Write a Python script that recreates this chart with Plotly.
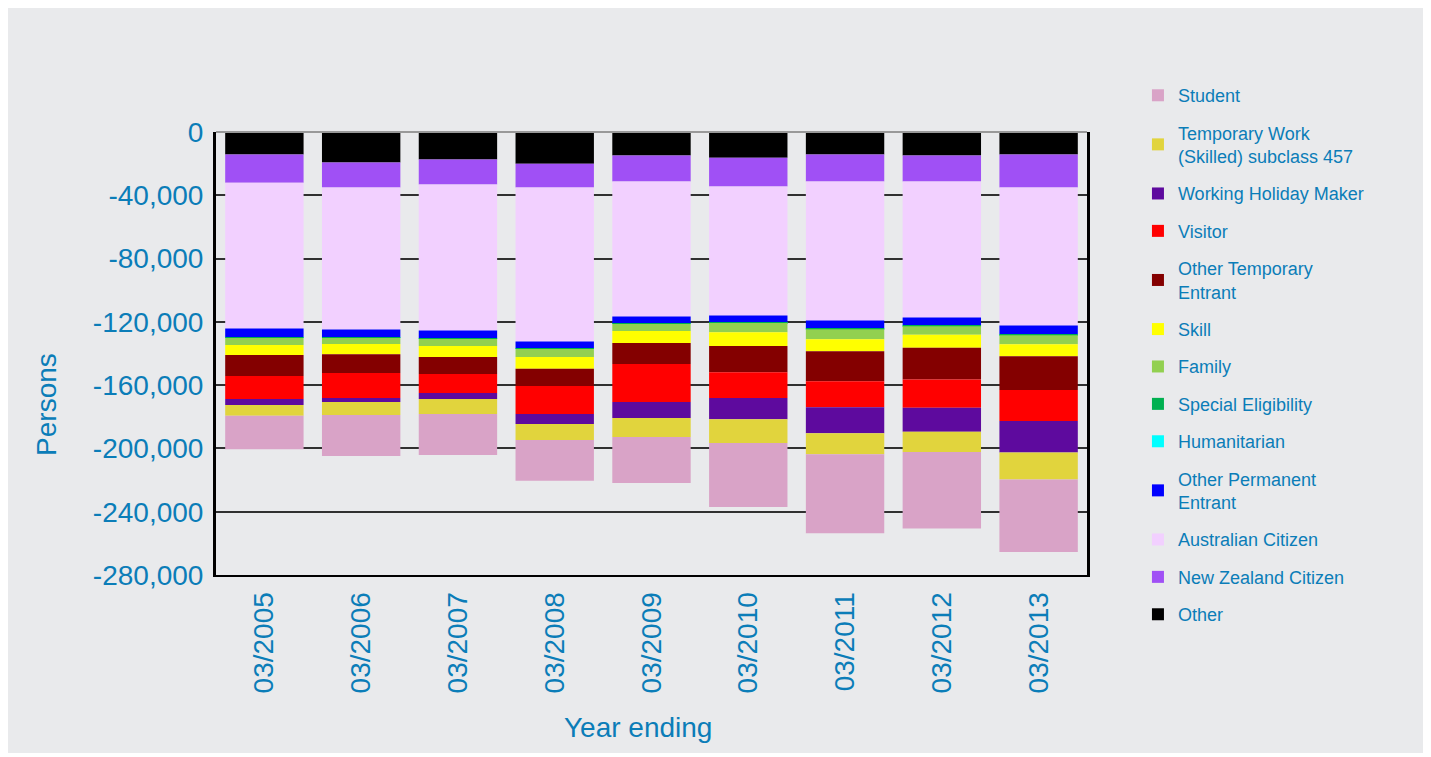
import plotly.graph_objects as go

# 年度ラベル
years = ['03/2005', '03/2006', '03/2007', '03/2008', '03/2009',
         '03/2010', '03/2011', '03/2012', '03/2013']

# 各カテゴリの値（人数、負方向に積み上げ）
other = [-14300, -19300, -17400, -20000, -14800, -16200, -14300, -14800, -14300]
nz_citizen = [-17700, -15800, -15800, -15100, -16500, -18300, -17000, -16500, -20800]
aus_citizen = [-92200, -89700, -92200, -97300, -85300, -81500, -87800, -85900, -87200]
other_permanent = [-5700, -5100, -5100, -4400, -4400, -4400, -5100, -4900, -5700]
humanitarian = [-100, -100, -100, -100, -100, -100, -100, -100, -100]
special_elig = [-200, -200, -200, -200, -200, -300, -400, -600, -300]
family = [-4400, -3800, -4400, -5100, -4400, -5700, -6300, -5300, -5700]
skill = [-6300, -6400, -7000, -7500, -7600, -8800, -7600, -8200, -7600]
other_temp = [-13300, -11900, -10700, -10800, -13300, -16500, -19000, -20200, -21400]
visitor = [-14500, -15800, -12000, -17700, -24000, -16400, -16400, -17800, -19600]
working_holiday = [-3800, -2500, -3800, -6300, -10100, -13300, -16400, -15200, -19900]
temp_work_457 = [-6900, -8200, -9500, -10100, -12000, -15100, -13300, -12800, -17100]
student = [-21100, -26000, -25900, -25900, -29100, -40400, -49900, -48300, -45800]

# Y軸目盛り
y_tick_values = [0, -40000, -80000, -120000, -160000, -200000, -240000, -280000]
y_tick_labels = ['0', '-40,000', '-80,000', '-120,000', '-160,000',
                 '-200,000', '-240,000', '-280,000']

# 積み上げ順（上から下）
SERIES = [
    ('Other', other, '#000000'),
    ('New Zealand Citizen', nz_citizen, '#a050f5'),
    ('Australian Citizen', aus_citizen, '#f2d0ff'),
    ('Other Permanent<br>Entrant', other_permanent, '#0000ff'),
    ('Humanitarian', humanitarian, '#00ffff'),
    ('Special Eligibility', special_elig, '#00b050'),
    ('Family', family, '#92d050'),
    ('Skill', skill, '#ffff00'),
    ('Other Temporary<br>Entrant', other_temp, '#840000'),
    ('Visitor', visitor, '#ff0000'),
    ('Working Holiday Maker', working_holiday, '#5e0a9e'),
    ('Temporary Work<br>(Skilled) subclass 457', temp_work_457, '#e1d43d'),
    ('Student', student, '#d9a3c7'),
]

TEXT_COLOR = '#0b7db8'
BG = '#e9eaec'
FONT = 'Liberation Sans, Arial, sans-serif'

fig = go.Figure()
for i, (name, values, color) in enumerate(SERIES):
    fig.add_trace(go.Bar(
        x=years,
        y=values,
        name=name,
        marker=dict(color=color, line=dict(width=0)),
        legendgroup=f'g{i}',
        legendrank=len(SERIES) - i,
    ))

fig.update_layout(
    width=1424,
    height=745,
    barmode='relative',
    bargap=0.19,
    paper_bgcolor=BG,
    plot_bgcolor=BG,
    margin=dict(l=208, r=345, t=124, b=178),
    font=dict(family=FONT, color=TEXT_COLOR),
    legend=dict(
        traceorder='grouped',
        x=1.0585, y=1.124,
        xanchor='left', yanchor='top',
        font=dict(size=18, color=TEXT_COLOR),
        bgcolor='rgba(0,0,0,0)',
        tracegroupgap=11,
        itemwidth=30,
        maxheight=700,
    ),
    xaxis=dict(
        tickangle=-90,
        tickfont=dict(size=28, color=TEXT_COLOR),
        ticklabelstandoff=4,
        showline=True, linecolor='black', linewidth=2,
        showgrid=False, ticks='',
    ),
    yaxis=dict(
        range=[-280000, 0],
        tickvals=y_tick_values,
        ticktext=y_tick_labels,
        tickfont=dict(size=28, color=TEXT_COLOR),
        ticklabelstandoff=4,
        showline=True, linecolor='black', linewidth=3, mirror=True,
        showgrid=True, gridcolor='#303030', gridwidth=2,
        zeroline=False, ticks='',
    ),
    annotations=[
        dict(text='Persons', xref='paper', yref='paper', x=-0.194, y=0.384,
             textangle=-90, showarrow=False, xanchor='center', yanchor='middle',
             font=dict(size=28, color=TEXT_COLOR)),
        dict(text='Year ending', xref='paper', yref='paper', x=0.4845, y=-0.345,
             showarrow=False, xanchor='center', yanchor='middle',
             font=dict(size=28, color=TEXT_COLOR)),
    ],
    shapes=[
        dict(type='line', xref='paper', yref='paper',
             x0=0, x1=1, y0=1, y1=1,
             line=dict(color='#999999', width=2)),
    ],
)

fig.write_html('out.html')
